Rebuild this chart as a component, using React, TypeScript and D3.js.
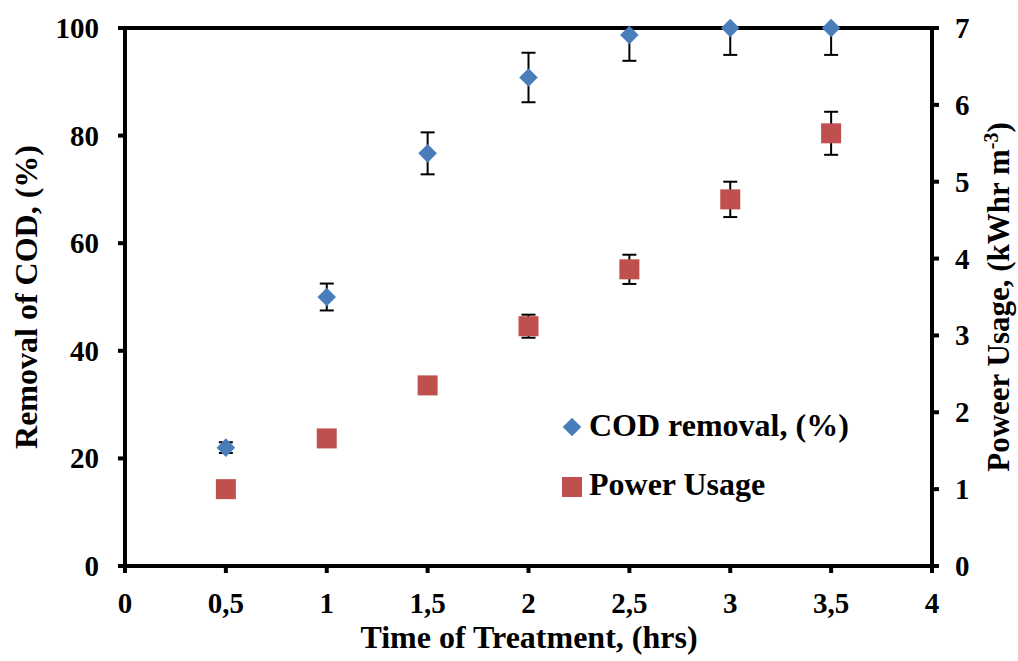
import React from "react";
import * as d3 from "d3";

const times = [0.5, 1, 1.5, 2, 2.5, 3, 3.5];
const codRemoval = [22, 50, 76.7, 90.8, 98.7, 100, 100];
const codError = [1, 2.5, 3.9, 4.6, 4.8, 5, 5];
const powerUsage = [1.0, 1.66, 2.35, 3.12, 3.86, 4.77, 5.63];
const powerError = [0, 0, 0, 0.15, 0.19, 0.23, 0.28];
const xTicks = [0, 0.5, 1, 1.5, 2, 2.5, 3, 3.5, 4];
const leftTicks = [0, 20, 40, 60, 80, 100];
const rightTicks = [0, 1, 2, 3, 4, 5, 6, 7];

const W = 1018, H = 661;
const M = { left: 125, right: 932, top: 28, bottom: 566 };
const font = "'Liberation Serif', 'Times New Roman', serif";
const blue = "#4a7ebb";
const red = "#c0504d";

export default function App() {
  const x = d3.scaleLinear().domain([0, 4]).range([M.left, M.right]);
  const yL = d3.scaleLinear().domain([0, 100]).range([M.bottom, M.top]);
  const yR = d3.scaleLinear().domain([0, 7]).range([M.bottom, M.top]);
  const fmt = (v: number) => String(v).replace(".", ",");
  const diamond = d3.symbol().type(d3.symbolDiamond2).size(220)();
  const cap = 7;
  const sq = 10;

  return (
    <svg width={W} height={H} style={{ position: "absolute", left: 0, top: 0 }} fontFamily={font} fontWeight="bold">
      <rect width={W} height={H} fill="#fff" />
      {/* error bars COD */}
      {times.map((t, i) => {
        const cx = x(t);
        const top = Math.min(100, codRemoval[i] + codError[i]);
        return (
          <g key={"ce" + i} stroke="#000" strokeWidth={2}>
            <line x1={cx} x2={cx} y1={yL(top)} y2={yL(codRemoval[i] - codError[i])} />
            <line x1={cx - cap} x2={cx + cap} y1={yL(codRemoval[i] - codError[i])} y2={yL(codRemoval[i] - codError[i])} />
            {top < 100 && <line x1={cx - cap} x2={cx + cap} y1={yL(top)} y2={yL(top)} />}
          </g>
        );
      })}
      {times.map((t, i) => powerError[i] > 0 && (
        <g key={"pe" + i} stroke="#000" strokeWidth={2}>
          <line x1={x(t)} x2={x(t)} y1={yR(powerUsage[i] + powerError[i])} y2={yR(powerUsage[i] - powerError[i])} />
          <line x1={x(t) - cap} x2={x(t) + cap} y1={yR(powerUsage[i] + powerError[i])} y2={yR(powerUsage[i] + powerError[i])} />
          <line x1={x(t) - cap} x2={x(t) + cap} y1={yR(powerUsage[i] - powerError[i])} y2={yR(powerUsage[i] - powerError[i])} />
        </g>
      ))}
      {/* frame */}
      <rect x={M.left} y={M.top} width={M.right - M.left} height={M.bottom - M.top} fill="none" stroke="#000" strokeWidth={4} />
      {/* markers */}
      {times.map((t, i) => (
        <rect key={"p" + i} x={x(t) - sq} y={yR(powerUsage[i]) - sq} width={sq * 2} height={sq * 2} fill={red} />
      ))}
      {times.map((t, i) => (
        <path key={"c" + i} d={diamond!} transform={`translate(${x(t)},${yL(codRemoval[i])})`} fill={blue} />
      ))}
      {/* x ticks */}
      {xTicks.map((t) => (
        <g key={"x" + t}>
          <line x1={x(t)} x2={x(t)} y1={M.bottom} y2={M.bottom + 7} stroke="#000" strokeWidth={4} />
          <text x={x(t)} y={613} textAnchor="middle" fontSize={29}>{fmt(t)}</text>
        </g>
      ))}
      {leftTicks.map((t) => (
        <g key={"l" + t}>
          <line x1={M.left - 7} x2={M.left} y1={yL(t)} y2={yL(t)} stroke="#000" strokeWidth={4} />
          <text x={99} y={yL(t) + 10} textAnchor="end" fontSize={29}>{t}</text>
        </g>
      ))}
      {rightTicks.map((t) => (
        <g key={"r" + t}>
          <line x1={M.right} x2={M.right + 7} y1={yR(t)} y2={yR(t)} stroke="#000" strokeWidth={4} />
          <text x={955} y={yR(t) + 10} textAnchor="start" fontSize={29}>{t}</text>
        </g>
      ))}
      {/* axis titles */}
      <text x={529} y={648} textAnchor="middle" fontSize={32}>Time of Treatment, (hrs)</text>
      <text transform={`translate(37,297) rotate(-90)`} textAnchor="middle" fontSize={32}>Removal of COD, (%)</text>
      <text transform={`translate(1009,297) rotate(-90)`} textAnchor="middle" fontSize={31}>
        Poweer Usage, (kWhr m<tspan dy={-11} fontSize={20}>-3</tspan><tspan dy={11}>)</tspan>
      </text>
      {/* legend */}
      <path d={diamond!} transform="translate(572,427)" fill={blue} />
      <text x={589} y={436} fontSize={32}>COD removal, (%)</text>
      <rect x={562} y={477} width={20} height={20} fill={red} />
      <text x={589} y={495} fontSize={32}>Power Usage</text>
    </svg>
  );
}
